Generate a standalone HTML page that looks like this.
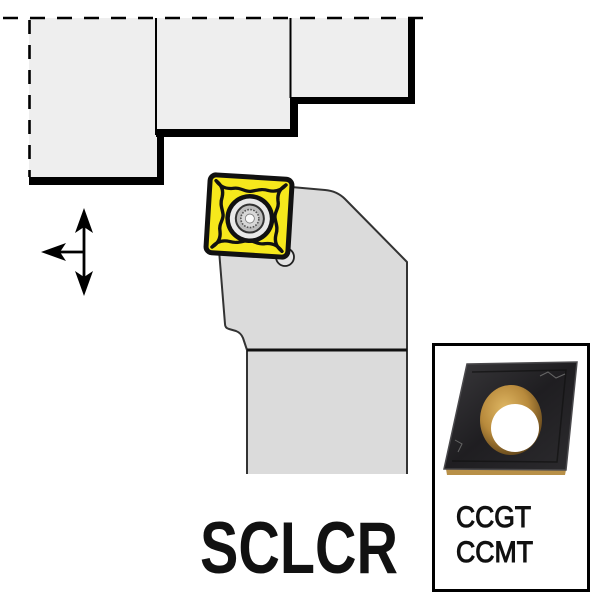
<!DOCTYPE html>
<html>
<head>
<meta charset="utf-8">
<style>
  html,body{margin:0;padding:0;background:#fff;}
  svg{display:block;}
</style>
</head>
<body>
<svg width="600" height="600" viewBox="0 0 600 600" xmlns="http://www.w3.org/2000/svg">
  <defs>
    <linearGradient id="blk" x1="0" y1="0" x2="1" y2="1">
      <stop offset="0" stop-color="#3a393c"/>
      <stop offset="0.5" stop-color="#1f1e21"/>
      <stop offset="1" stop-color="#2c2b2e"/>
    </linearGradient>
    <radialGradient id="gold" cx="0.4" cy="0.35" r="0.7">
      <stop offset="0" stop-color="#e0b864"/>
      <stop offset="0.55" stop-color="#b88a3c"/>
      <stop offset="1" stop-color="#5e4218"/>
    </radialGradient>
  </defs>

  <!-- Stepped blocks -->
  <rect x="29" y="18" width="128" height="160" fill="#eeeeee"/>
  <rect x="157" y="18" width="134" height="112" fill="#eeeeee"/>
  <rect x="291" y="18" width="117" height="79" fill="#eeeeee"/>

  <!-- thick shadows -->
  <rect x="29" y="177" width="135" height="8" fill="#000"/>
  <rect x="157" y="133" width="7" height="52" fill="#000"/>
  <rect x="156" y="129" width="142" height="8" fill="#000"/>
  <rect x="290" y="97" width="8" height="40" fill="#000"/>
  <rect x="290" y="97" width="125" height="7" fill="#000"/>
  <rect x="408" y="18" width="7" height="86" fill="#000"/>

  <!-- thin separators -->
  <line x1="156" y1="18" x2="156" y2="135" stroke="#000" stroke-width="2"/>
  <line x1="290.5" y1="18" x2="290.5" y2="98" stroke="#000" stroke-width="2"/>

  <!-- dashed lines -->
  <line x1="3" y1="18" x2="428" y2="18" stroke="#000" stroke-width="2.6" stroke-dasharray="15 12"/>
  <line x1="29.5" y1="20" x2="29.5" y2="177" stroke="#000" stroke-width="2.6" stroke-dasharray="14 11"/>

  <!-- Arrows -->
  <line x1="84" y1="220" x2="84" y2="284" stroke="#000" stroke-width="2.8"/>
  <line x1="60" y1="252" x2="84" y2="252" stroke="#000" stroke-width="2.8"/>
  <polygon points="84,208 93,233 84,227 75,233" fill="#000"/>
  <polygon points="84,296 93,271 84,277 75,271" fill="#000"/>
  <polygon points="41,252 66,243 60,252 66,261" fill="#000"/>

  <!-- Holder shank -->
  <rect x="247" y="350" width="160" height="124" fill="#dbdbdb"/>
  <line x1="247" y1="350" x2="247" y2="474" stroke="#333" stroke-width="2"/>
  <line x1="407" y1="350" x2="407" y2="474" stroke="#333" stroke-width="2"/>

  <!-- Holder head -->
  <path d="M 280,186 L 325,190 Q 337,191 345,199 L 407,262 L 407,350 L 247,350 L 243,338 Q 241,333 236,331 L 229,329 Q 225,328 225,324 L 219,250 Z"
        fill="#dbdbdb" stroke="#333" stroke-width="2" stroke-linejoin="round"/>
  <line x1="247" y1="350" x2="407" y2="350" stroke="#111" stroke-width="3"/>

  <!-- pin -->
  <circle cx="285" cy="257" r="9" fill="#e4e4e4" stroke="#222" stroke-width="1.8"/>

  <!-- Yellow insert -->
  <g transform="translate(249,216) rotate(3.5)">
    <rect x="-41" y="-39" width="82" height="78" rx="6" ry="6" fill="#f6e81c" stroke="#111" stroke-width="5"/>
    <g fill="none" stroke="#111" stroke-width="3.4" stroke-linecap="round">
      <g transform="scale(1,0.95)">
        <path d="M -35,-35 C -30,-28 -24,-27 -18,-28 C -10,-30 -6,-25 0,-26 C 6,-27 10,-30 18,-28 C 24,-27 30,-28 35,-35"/>
        <path transform="rotate(90)" d="M -35,-35 C -30,-28 -24,-27 -18,-28 C -10,-30 -6,-25 0,-26 C 6,-27 10,-30 18,-28 C 24,-27 30,-28 35,-35"/>
        <path transform="rotate(180)" d="M -35,-35 C -30,-28 -24,-27 -18,-28 C -10,-30 -6,-25 0,-26 C 6,-27 10,-30 18,-28 C 24,-27 30,-28 35,-35"/>
        <path transform="rotate(270)" d="M -35,-35 C -30,-28 -24,-27 -18,-28 C -10,-30 -6,-25 0,-26 C 6,-27 10,-30 18,-28 C 24,-27 30,-28 35,-35"/>
      </g>
    </g>
    <g transform="translate(1,2.5)">
      <circle r="24.5" fill="#111"/>
      <circle r="20" fill="#e8e8e8"/>
      <circle r="14" fill="#bdbdbd" stroke="#333" stroke-width="2"/>
      <circle r="9" fill="#d8d8d8" stroke="#555" stroke-width="1.6" stroke-dasharray="1.6 1.4"/>
      <circle r="4.5" fill="#fafafa" stroke="#777" stroke-width="0.8"/>
    </g>
  </g>

  <!-- SCLCR -->
  <text x="200" y="573" font-family="'Liberation Sans', Arial, sans-serif" font-weight="bold" font-size="73" fill="#111"
        textLength="198" lengthAdjust="spacingAndGlyphs">SCLCR</text>

  <!-- Right box -->
  <rect x="433.5" y="344.5" width="155" height="246" fill="#fff" stroke="#000" stroke-width="3"/>

  <!-- photo insert -->
  <polygon points="446,469 566,470 565,475 447,475" fill="#b89048"/>
  <polygon points="467,364 577,362 566,470 444,469" fill="url(#blk)"/>
  <polygon points="467,364 577,362 566,470 444,469" fill="none" stroke="#4a494c" stroke-width="1.5"/>
  <polyline points="472,372 566,370 557,462 452,461" fill="none" stroke="#111" stroke-width="1.5" opacity="0.7"/>
  <path d="M 540,376 L 548,372 L 556,378 L 565,374" fill="none" stroke="#666" stroke-width="1"/>
  <path d="M 455,440 L 462,444 L 458,452" fill="none" stroke="#666" stroke-width="1"/>
  <ellipse cx="511" cy="420" rx="31" ry="35" fill="url(#gold)"/>
  <circle cx="515" cy="428" r="24" fill="#ffffff"/>

  <!-- CCGT / CCMT -->
  <text x="456" y="527" font-family="'Liberation Sans', Arial, sans-serif" font-size="30" fill="#111" stroke="#111" stroke-width="1.1"
        textLength="75" lengthAdjust="spacingAndGlyphs">CCGT</text>
  <text x="456" y="562" font-family="'Liberation Sans', Arial, sans-serif" font-size="30" fill="#111" stroke="#111" stroke-width="1.1"
        textLength="77" lengthAdjust="spacingAndGlyphs">CCMT</text>
</svg>
</body>
</html>
